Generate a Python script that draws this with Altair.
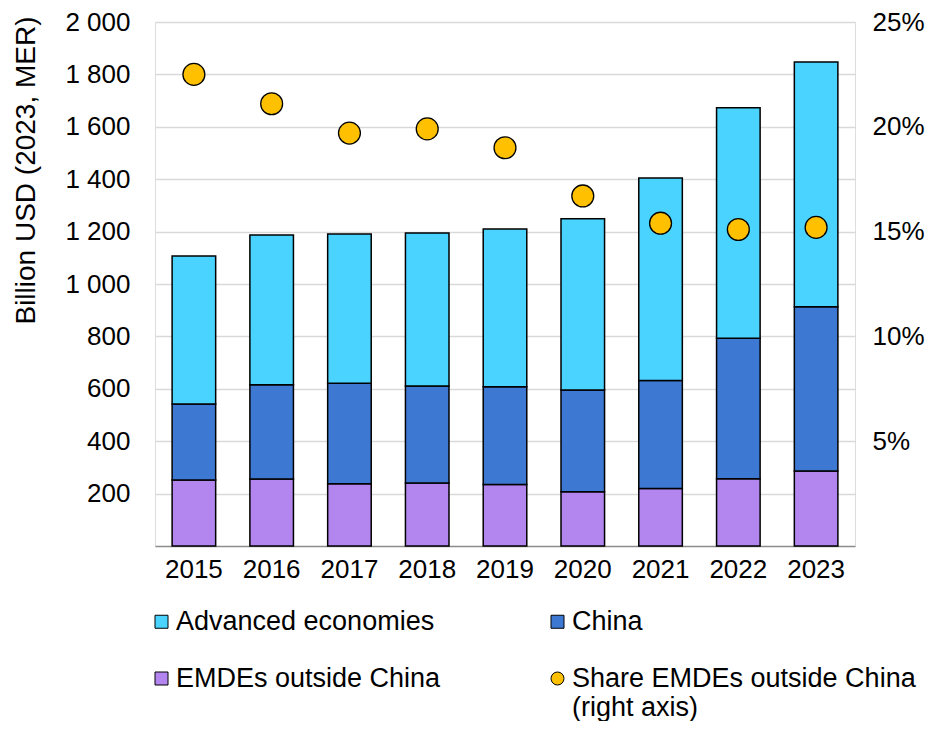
import altair as alt
import pandas as pd

years = ["2015", "2016", "2017", "2018", "2019", "2020", "2021", "2022", "2023"]
emde_outside_china = [252, 256, 238, 240, 235, 207, 219, 257, 286]
china = [290, 359, 383, 371, 373, 388, 413, 536, 627]
advanced = [565, 572, 570, 584, 602, 654, 773, 880, 934]
share_emde = [0.225, 0.211, 0.197, 0.199, 0.190, 0.167, 0.154, 0.151, 0.152]

series_names = ["Advanced economies", "China", "EMDEs outside China", "Share EMDEs outside China"]
series_colors = ["#4AD3FF", "#3D78D3", "#B286EE", "#FFC000"]
series_shapes = ["square", "square", "square", "circle"]
stack_order = {"EMDEs outside China": 0, "China": 1, "Advanced economies": 2}

left_ticks = [200, 400, 600, 800, 1000, 1200, 1400, 1600, 1800, 2000]
right_ticks = [0.05, 0.10, 0.15, 0.20, 0.25]

rows = []
for name, vals in [("EMDEs outside China", emde_outside_china), ("China", china), ("Advanced economies", advanced)]:
    for y, v in zip(years, vals):
        rows.append({"year": y, "series": name, "value": v, "ord": stack_order[name]})
bars_df = pd.DataFrame(rows)
share_df = pd.DataFrame({"year": years, "share": share_emde, "series": "Share EMDEs outside China"})

FONT = "Liberation Sans"
label_expr = ("datum.label == 'Share EMDEs outside China' ? "
              "['Share EMDEs outside China', '(right axis)'] : datum.label")

legend_kwargs = dict(
    title=None, orient="none", legendX=-7, legendY=586, columns=2, direction="horizontal",
    columnPadding=103, rowPadding=29, labelFontSize=27, labelFont=FONT,
    labelColor="black", labelLimit=0, labelOffset=1, symbolSize=169,
    symbolStrokeColor="black", symbolStrokeWidth=1, labelExpr=label_expr,
    padding=0,
)

x_enc = alt.X("year:N", title=None, sort=years,
              scale=alt.Scale(paddingInner=0.44),
              axis=alt.Axis(labelAngle=0, ticks=False, labelFontSize=26, labelFont=FONT,
                            labelColor="black", labelPadding=10, domainColor="#8c8c8c",
                            domainWidth=1.5, grid=False))

bars = alt.Chart(bars_df).mark_bar(stroke="black", strokeWidth=1.5).encode(
    x=x_enc,
    y=alt.Y("sum(value):Q", stack="zero",
            scale=alt.Scale(domain=[0, 2000], nice=False),
            axis=alt.Axis(title="Billion USD (2023, MER)", values=left_ticks,
                          labelExpr="replace(format(datum.value, ','), ',', ' ')",
                          ticks=False, domain=False, labelFontSize=26, labelFont=FONT,
                          labelColor="black", labelPadding=25, titleFontSize=28,
                          titleFont=FONT, titleFontWeight="normal", titleColor="black",
                          titlePadding=24, titleY=148, gridColor="#d9d9d9", gridWidth=1.5)),
    color=alt.Color("series:N", scale=alt.Scale(domain=series_names, range=series_colors),
                    legend=alt.Legend(**legend_kwargs)),
    order=alt.Order("ord:Q"),
)

points = alt.Chart(share_df).mark_point(filled=True, size=480, stroke="black",
                                         strokeWidth=1.3, opacity=1).encode(
    x=alt.X("year:N", sort=years),
    y=alt.Y("share:Q", scale=alt.Scale(domain=[0, 0.25], nice=False),
            axis=alt.Axis(orient="right", title=None, values=right_ticks, format=".0%",
                          ticks=False, domain=False, grid=False, labelFontSize=26,
                          labelFont=FONT, labelColor="black", labelPadding=17)),
    color=alt.Color("series:N"),
    shape=alt.Shape("series:N", scale=alt.Scale(domain=series_names, range=series_shapes),
                    legend=alt.Legend(**legend_kwargs)),
)

chart = alt.layer(bars, points).resolve_scale(y="independent").properties(
    width=700, height=524,
    autosize=alt.AutoSizeParams(type="none"),
    padding={"left": 147, "top": 14, "right": 72, "bottom": 175},
).configure_view(stroke=None).configure(background="white")

chart.save("out.html", embed_options={"renderer": "svg", "actions": False})
